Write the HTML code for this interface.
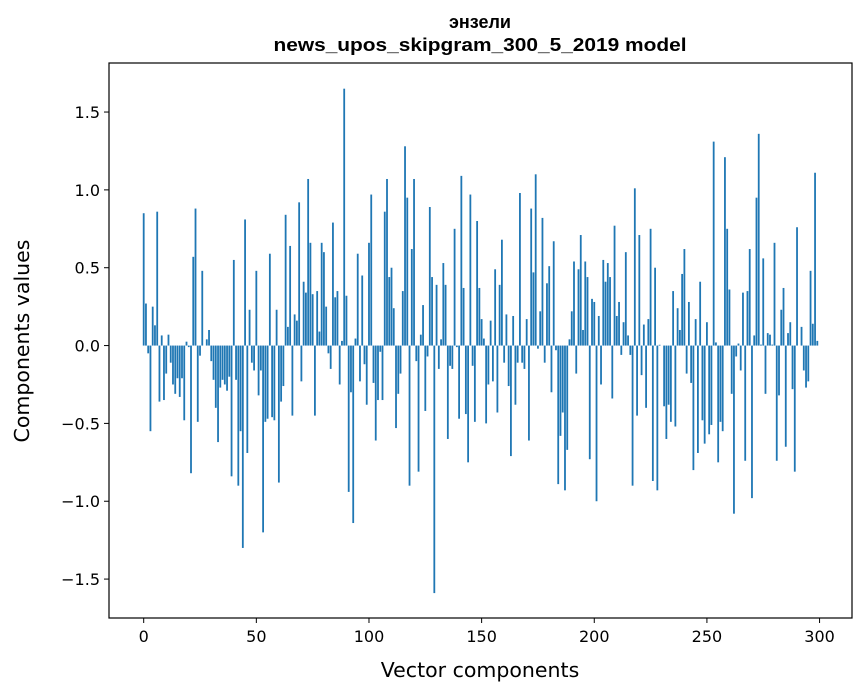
<!DOCTYPE html>
<html><head><meta charset="utf-8"><style>
body{margin:0;background:#fff;}
svg{display:block;font-family:"DejaVu Sans","Liberation Sans",sans-serif;}
</style></head><body>
<svg id="chart" width="867" height="696">
<text x="480" y="28" text-anchor="middle" font-size="18" font-weight="bold" font-family="Liberation Sans, sans-serif">энзели</text>
<text x="480" y="51" text-anchor="middle" font-size="18" font-weight="bold" font-family="Liberation Sans, sans-serif" textLength="413" lengthAdjust="spacingAndGlyphs">news_upos_skipgram_300_5_2019 model</text>
<g id="bars"></g>
<rect x="109" y="63" width="743" height="555" fill="none" stroke="#000" stroke-width="1.2"/>
<g id="xticks"></g>
<g id="yticks"></g>
<text x="480" y="677" text-anchor="middle" font-size="20.5">Vector components</text>
<text transform="translate(29,341) rotate(-90)" text-anchor="middle" font-size="20.5">Components values</text>
</svg>
<script>
const values = [
0.85,0.27,-0.05,-0.55,0.25,0.13,0.86,-0.36,0.065,-0.35,
-0.18,0.07,-0.11,-0.25,-0.31,-0.21,-0.33,-0.21,-0.48,0.025,
-0.01,-0.82,0.57,0.88,-0.49,-0.065,0.48,0.0,0.04,0.1,
-0.1,-0.22,-0.4,-0.62,-0.27,-0.22,-0.25,-0.29,-0.2,-0.84,
0.55,-0.22,-0.9,-0.55,-1.3,0.81,-0.69,0.23,-0.11,-0.16,
0.48,-0.32,-0.16,-1.2,-0.49,-0.47,0.59,-0.46,-0.48,0.23,
-0.88,-0.36,-0.26,0.84,0.12,0.64,-0.45,0.2,0.16,0.92,
-0.23,0.41,0.34,1.07,0.66,0.33,-0.45,0.35,0.09,0.66,
0.6,0.25,-0.05,-0.15,0.79,0.31,0.35,-0.25,0.03,1.65,
0.32,-0.94,-0.3,-1.14,0.045,0.59,-0.23,0.45,-0.12,-0.38,
0.66,0.97,-0.24,-0.61,-0.35,-0.04,-0.35,0.86,1.07,0.44,
0.5,0.24,-0.53,-0.31,-0.18,0.35,1.28,0.95,-0.9,0.62,
1.07,-0.1,-0.81,0.07,0.26,-0.42,-0.07,0.89,0.44,-1.59,
0.39,-0.15,0.04,0.53,0.39,-0.6,-0.13,-0.15,0.75,-0.01,
-0.47,1.09,0.37,-0.44,-0.75,0.97,-0.13,-0.49,0.8,0.37,
0.17,0.045,-0.5,-0.25,0.16,-0.23,0.49,-0.43,0.39,0.68,
-0.11,0.2,-0.26,-0.71,0.19,-0.38,-0.11,0.98,-0.11,-0.15,
0.17,-0.61,0.88,0.47,1.1,-0.02,0.22,0.82,-0.11,0.4,
0.51,-0.3,0.67,-0.03,-0.89,-0.58,-0.43,-0.93,-0.67,0.04,
0.22,0.54,-0.18,0.49,0.71,0.1,0.54,0.44,-0.73,0.3,
0.28,-1.0,0.19,-0.25,0.55,0.41,0.53,0.44,-0.34,0.77,
0.19,0.28,-0.06,0.15,0.6,0.065,-0.06,-0.9,1.01,-0.45,
0.71,-0.19,0.135,-0.4,0.17,0.75,-0.87,0.5,-0.93,0.005,
0.0,-0.39,-0.6,-0.38,-0.49,0.35,-0.52,0.24,0.1,0.46,
0.62,-0.18,0.28,-0.24,-0.8,0.17,-0.69,0.41,-0.48,-0.63,
0.15,-0.57,-0.51,1.31,0.02,-0.75,-0.49,-0.55,1.21,0.75,
0.36,-0.31,-1.08,-0.07,0.013,-0.16,0.34,-0.74,0.35,0.62,
-0.98,0.065,0.95,1.36,0.006,0.56,-0.31,0.08,0.07,0.006,
0.66,-0.74,-0.32,0.23,0.37,-0.65,0.08,0.15,-0.28,-0.81,
0.76,0.0,0.12,-0.16,-0.27,-0.23,0.48,0.14,1.11,0.03
];
const xTicks = [0,50,100,150,200,250,300];
const yTicks = [-1.5,-1.0,-0.5,0.0,0.5,1.0,1.5];
const yTickLabels = ["\u22121.5","\u22121.0","\u22120.5","0.0","0.5","1.0","1.5"];

const L=109,R=852,T=63,B=618;
const xMin=-15.4,xMax=314.4,yMin=-1.75,yMax=1.815;
const sx=v=>L+(v-xMin)/(xMax-xMin)*(R-L);
const sy=v=>B-(v-yMin)/(yMax-yMin)*(B-T);
const NS="http://www.w3.org/2000/svg";
const gb=document.getElementById('bars');
values.forEach((v,i)=>{
  const r=document.createElementNS(NS,'rect');
  const x0=sx(i-0.4),x1=sx(i+0.4);
  const y0=sy(Math.max(v,0)),y1=sy(Math.min(v,0));
  r.setAttribute('x',x0);r.setAttribute('width',x1-x0);
  r.setAttribute('y',y0);r.setAttribute('height',Math.max(y1-y0,0));
  r.setAttribute('fill','#1f77b4');
  
  
  gb.appendChild(r);
});
const gx=document.getElementById('xticks');
xTicks.forEach(t=>{
  const x=sx(t);
  const l=document.createElementNS(NS,'line');
  l.setAttribute('x1',x);l.setAttribute('x2',x);l.setAttribute('y1',B);l.setAttribute('y2',B+5);
  l.setAttribute('stroke','#000');
  
  
  gx.appendChild(l);
  const tx=document.createElementNS(NS,'text');
  tx.setAttribute('x',x);tx.setAttribute('y',B+24);tx.setAttribute('text-anchor','middle');tx.setAttribute('font-size','16');
  tx.textContent=t;
  
  
  gx.appendChild(tx);
});
const gy=document.getElementById('yticks');
yTicks.forEach((t,k)=>{
  const y=sy(t);
  const l=document.createElementNS(NS,'line');
  l.setAttribute('x1',L-5);l.setAttribute('x2',L);l.setAttribute('y1',y);l.setAttribute('y2',y);
  l.setAttribute('stroke','#000');
  
  
  gy.appendChild(l);
  const tx=document.createElementNS(NS,'text');
  tx.setAttribute('x',L-9);tx.setAttribute('y',y+6);tx.setAttribute('text-anchor','end');tx.setAttribute('font-size','16');
  tx.textContent=yTickLabels[k];
  
  
  gy.appendChild(tx);
});
</script>
</body></html>
